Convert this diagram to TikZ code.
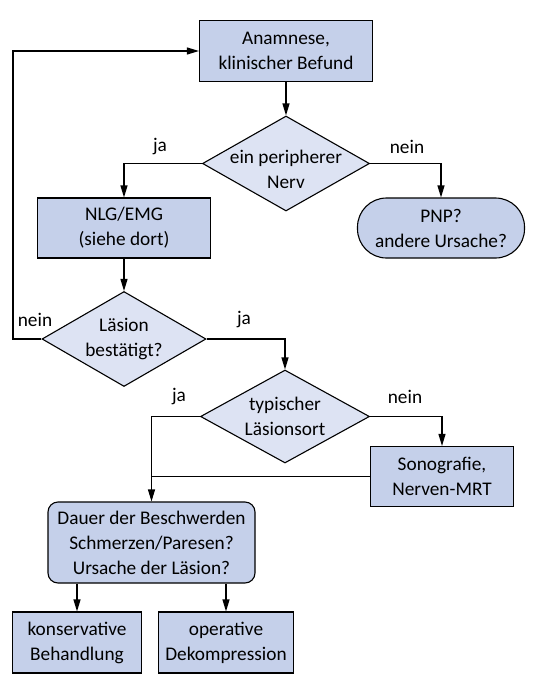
\documentclass[tikz,border=0pt]{standalone}
\usepackage{fontspec}
\setmainfont{Carlito}
\usepackage{xcolor}
\usetikzlibrary{shapes.geometric, arrows.meta}
\definecolor{boxfill}{HTML}{C5D0EA}
\definecolor{decfill}{HTML}{DDE3F3}
\newcommand{\zw}[1]{\makebox[0pt]{#1}}

\begin{document}
\begin{tikzpicture}[x=1pt, y=-1pt,
    font=\fontsize{19.3}{25}\selectfont,
    box/.style={rectangle, draw, fill=boxfill, align=center, line width=1.1pt,
                inner sep=0pt},
    rbox/.style={box, rounded corners=10pt},
    term/.style={box, rounded corners=29pt},
    dec/.style={diamond, draw, fill=decfill, align=center, line width=1.1pt,
                inner sep=0pt, minimum width=167pt, minimum height=95pt},
    lbl/.style={inner sep=1pt},
    arrow/.style={-{Triangle[length=12pt, width=7pt]}, line width=1.1pt}]
  \useasboundingbox (0,0) rectangle (553,683);
  \node[box, minimum width=173pt, minimum height=61pt] (anam) at (286,51) {Anamnese,\\klinischer Befund};
  \node[dec] (nerv) at (286,163.5) {\rule{0pt}{26pt}\zw{ein peripherer}\\\zw{Nerv}};
  \node[box, minimum width=173pt, minimum height=60pt] (nlg) at (124,228) {NLG/EMG\\(siehe dort)};
  \node[term, minimum width=167pt, minimum height=60pt] (pnp) at (441,228) {PNP?\\andere Ursache?};
  \node[dec, minimum width=164pt] (best) at (124,339) {\zw{Läsion}\\\zw{bestätigt?}};
  \node[dec, minimum width=169pt, minimum height=93pt] (typ) at (285,416.5) {\zw{typischer}\\\zw{Läsionsort}};
  \node[box, minimum width=143pt, minimum height=60pt] (sono) at (442,476.5) {Sonografie,\\Nerven-MRT};
  \node[rbox, minimum width=207pt, minimum height=81pt] (dauer) at (151.5,542.5) {Dauer der Beschwerden\\Schmerzen/Paresen?\\Ursache der Läsion?};
  \node[box, minimum width=129pt, minimum height=61pt] (kons) at (77,642.5) {konservative\\Behandlung};
  \node[box, minimum width=135pt, minimum height=61pt] (oper) at (226,642.5) {operative\\Dekompression};
  \coordinate (back) at (13,339);
  % labels
  \node[lbl] (ja1) at (160,147) {ja};
  \node[lbl] (nein1) at (407,147) {nein};
  \node[lbl] (nein2) at (35,320) {nein};
  \node[lbl] (ja2) at (244,320) {ja};
  \node[lbl] (ja3) at (179,397) {ja};
  \node[lbl] (nein3) at (405,397) {nein};
  % connectors
  \draw[arrow] (anam) -- (nerv);
  \draw[arrow] (nerv.west) -| (nlg.north);
  \draw[arrow] (nerv.east) -| (pnp.north);
  \draw[arrow] (nlg) -- (best);
  \draw[arrow] (best.west) -- (back) |- (anam.west);
  \draw[arrow] (best.east) -| (typ.north);
  \draw[arrow] (typ.west) -| (dauer.north);
  \draw[arrow] (typ.east) -| (sono.north);
  \draw[line width=1.1pt] (sono.west) -- (sono.west -| dauer.north);
  \draw[arrow] (dauer.south -| kons) -- (kons);
  \draw[arrow] (dauer.south -| oper) -- (oper);
\end{tikzpicture}
\end{document}
